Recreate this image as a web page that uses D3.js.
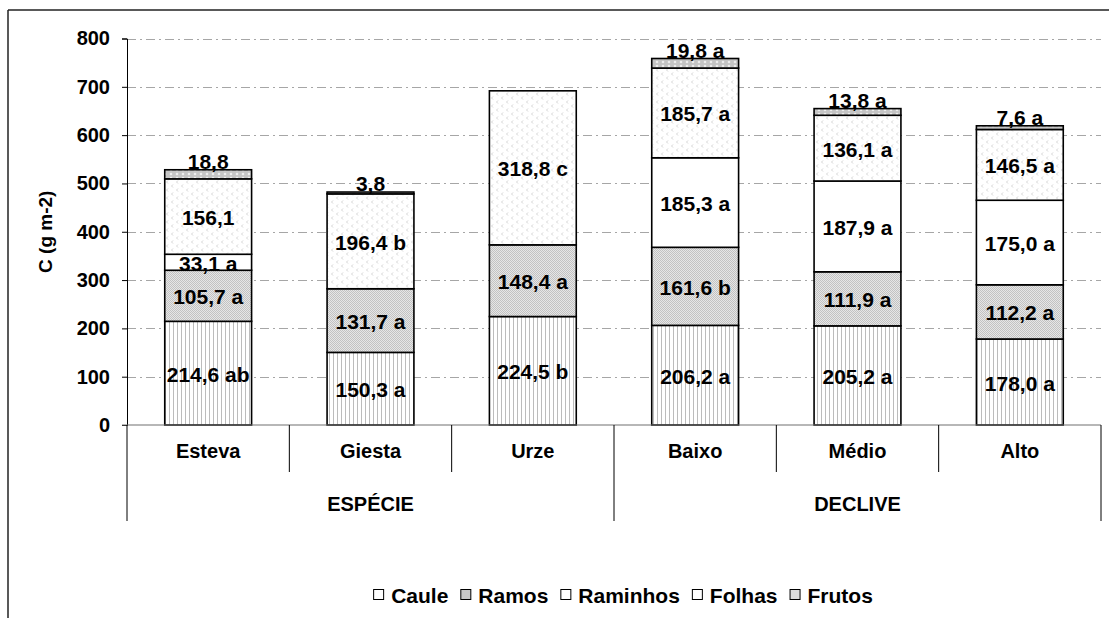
<!DOCTYPE html>
<html>
<head>
<meta charset="utf-8">
<script src="https://cdn.jsdelivr.net/npm/d3@7"></script>
<style>
  html, body { margin: 0; padding: 0; background: #fff; }
  svg text { font-family: "Liberation Sans", Arial, sans-serif; font-weight: bold; fill: #000; }
</style>
</head>
<body>
<svg id="chart" width="1109" height="618"></svg>
<script>
// Categories and their groups
const categories = ["Esteva", "Giesta", "Urze", "Baixo", "Médio", "Alto"];
const groups = [
  { name: "ESPÉCIE", members: ["Esteva", "Giesta", "Urze"] },
  { name: "DECLIVE", members: ["Baixo", "Médio", "Alto"] }
];
const seriesNames = ["Caule", "Ramos", "Raminhos", "Folhas", "Frutos"];

// Carbon stock per component (g m-2); null = component absent
const caule    = [214.6, 150.3, 224.5, 206.2, 205.2, 178.0];
const ramos    = [105.7, 131.7, 148.4, 161.6, 111.9, 112.2];
const raminhos = [33.1, null, null, 185.3, 187.9, 175.0];
const folhas   = [156.1, 196.4, 318.8, 185.7, 136.1, 146.5];
const frutos   = [18.8, 3.8, null, 19.8, 13.8, 7.6];

// Significance letters shown next to each value
const cauleLetters    = ["ab", "a", "b", "a", "a", "a"];
const ramosLetters    = ["a", "a", "a", "b", "a", "a"];
const raminhosLetters = ["a", "", "", "a", "a", "a"];
const folhasLetters   = ["", "b", "c", "a", "a", "a"];
const frutosLetters   = ["", "", "", "a", "a", "a"];

const yTicks = [0, 100, 200, 300, 400, 500, 600, 700, 800];

const seriesValues = [caule, ramos, raminhos, folhas, frutos];
const seriesLetters = [cauleLetters, ramosLetters, raminhosLetters, folhasLetters, frutosLetters];

const svg = d3.select("#chart");
const plotLeft = 127, plotRight = 1101, plotTop = 38.5, plotBottom = 425;

// ---------- fill patterns ----------
const defs = svg.append("defs");
// Caule: thin vertical stripes
const pCaule = defs.append("pattern").attr("id", "p-caule")
  .attr("patternUnits", "userSpaceOnUse").attr("width", 4).attr("height", 4);
pCaule.append("rect").attr("width", 4).attr("height", 4).attr("fill", "#fff");
pCaule.append("rect").attr("x", 1).attr("width", 1).attr("height", 4).attr("fill", "#bcbcbc");
// Ramos: fine grey stipple
const pRamos = defs.append("pattern").attr("id", "p-ramos")
  .attr("patternUnits", "userSpaceOnUse").attr("width", 2).attr("height", 2);
pRamos.append("rect").attr("width", 2).attr("height", 2).attr("fill", "#e6e6e6");
pRamos.append("rect").attr("width", 1).attr("height", 1).attr("fill", "#c2c2c2");
pRamos.append("rect").attr("x", 1).attr("y", 1).attr("width", 1).attr("height", 1).attr("fill", "#c2c2c2");
// Folhas: light chevron marks
const pFolhas = defs.append("pattern").attr("id", "p-folhas")
  .attr("patternUnits", "userSpaceOnUse").attr("width", 10).attr("height", 8);
pFolhas.append("rect").attr("width", 10).attr("height", 8).attr("fill", "#fff");
pFolhas.append("path").attr("d", "M3,0.5 L1.5,2 L3,3.5 M8,4.5 L6.5,6 L8,7.5")
  .attr("fill", "none").attr("stroke", "#cfcfcf").attr("stroke-width", 0.9);
// Frutos: grey with light dots
const pFrutos = defs.append("pattern").attr("id", "p-frutos")
  .attr("patternUnits", "userSpaceOnUse").attr("width", 6).attr("height", 4);
pFrutos.append("rect").attr("width", 6).attr("height", 4).attr("fill", "#c4c4c4");
pFrutos.append("circle").attr("cx", 3).attr("cy", 2).attr("r", 1.3).attr("fill", "#ececec");

const fills = ["url(#p-caule)", "url(#p-ramos)", "#ffffff", "url(#p-folhas)", "url(#p-frutos)"];

// ---------- outer frame ----------
svg.append("line").attr("x1", 8).attr("y1", 10).attr("x2", 1109).attr("y2", 10)
  .attr("stroke", "#222").attr("stroke-width", 1.5);
svg.append("line").attr("x1", 8).attr("y1", 10).attr("x2", 8).attr("y2", 618)
  .attr("stroke", "#222").attr("stroke-width", 1.5);

// ---------- scales ----------
const y = d3.scaleLinear().domain([0, 800]).range([plotBottom, plotTop]);
const xCell = d3.scaleBand().domain(categories).range([plotLeft, plotRight]).padding(0);
const x = d3.scaleBand().domain(categories).range([plotLeft, plotRight])
  .paddingInner(0.465).paddingOuter(0.2325);

// ---------- gridlines ----------
svg.append("g").selectAll("line").data(yTicks.filter(d => d > 0)).join("line")
  .attr("x1", plotLeft).attr("x2", plotRight)
  .attr("y1", d => Math.round(y(d)) + 0.5).attr("y2", d => Math.round(y(d)) + 0.5)
  .attr("stroke", "#a6a6a6").attr("stroke-width", 1)
  .attr("stroke-dasharray", "9,4,2,4");

// ---------- y axis ----------
const yAxis = svg.append("g").attr("transform", `translate(${plotLeft},0)`)
  .call(d3.axisLeft(y).tickValues(yTicks).tickSize(5).tickPadding(12).tickFormat(d3.format("d")));
yAxis.select(".domain").attr("stroke", "#000");
yAxis.selectAll(".tick line").attr("stroke", "#000");
yAxis.selectAll(".tick text").style("font-size", "20px").style("font-family", "Liberation Sans, Arial, sans-serif")
  .style("font-weight", "bold");

svg.append("text")
  .attr("transform", `translate(45,${(plotTop + plotBottom) / 2}) rotate(-90)`)
  .attr("text-anchor", "middle").attr("dominant-baseline", "central")
  .style("font-size", "19px").text("C (g m-2)");

// ---------- stacked bars ----------
const stacked = categories.map((c, i) => {
  let acc = 0;
  return seriesValues.map((vals, s) => {
    const v = vals[i] || 0;
    const seg = { cat: c, s, v, y0: acc, y1: acc + v, letter: seriesLetters[s][i], present: vals[i] != null };
    acc += v;
    return seg;
  });
});
const segs = stacked.flat().filter(d => d.present);

const fmt = v => d3.format(".1f")(v).replace(".", ",");

svg.append("g").selectAll("rect").data(segs).join("rect")
  .attr("x", d => x(d.cat))
  .attr("width", x.bandwidth())
  .attr("y", d => y(d.y1))
  .attr("height", d => y(d.y0) - y(d.y1))
  .attr("fill", d => fills[d.s])
  .attr("stroke", "#000").attr("stroke-width", 1.6);

// Value labels: inside the segment, except Frutos which sits on top of the bar
svg.append("g").selectAll("text").data(segs).join("text")
  .attr("x", d => x(d.cat) + x.bandwidth() / 2)
  .attr("y", d => d.s === 4 ? y(d.y1) - 1 : (y(d.y0) + y(d.y1)) / 2 + 1)
  .attr("text-anchor", "middle")
  .attr("dominant-baseline", d => d.s === 4 ? "auto" : "central")
  .style("font-size", "21px")
  .text(d => fmt(d.v) + (d.letter ? " " + d.letter : ""));

// ---------- x baseline & category separators ----------
svg.append("line").attr("x1", plotLeft - 5).attr("x2", plotRight)
  .attr("y1", plotBottom).attr("y2", plotBottom).attr("stroke", "#707070").attr("stroke-width", 1.2);

const groupEdges = [plotLeft, xCell(groups[1].members[0]), plotRight];
const catEdges = categories.slice(1).map(c => xCell(c)).filter(e => !groupEdges.includes(e));

svg.append("g").selectAll("line").data(catEdges).join("line")
  .attr("x1", d => d).attr("x2", d => d).attr("y1", plotBottom).attr("y2", 472)
  .attr("stroke", "#000").attr("stroke-width", 1);
svg.append("g").selectAll("line").data(groupEdges).join("line")
  .attr("x1", d => d).attr("x2", d => d).attr("y1", plotBottom).attr("y2", 521)
  .attr("stroke", "#000").attr("stroke-width", 1);

svg.append("g").selectAll("text").data(categories).join("text")
  .attr("x", d => xCell(d) + xCell.bandwidth() / 2).attr("y", 451)
  .attr("text-anchor", "middle").attr("dominant-baseline", "central")
  .style("font-size", "20px").text(d => d);

svg.append("g").selectAll("text").data(groups).join("text")
  .attr("x", g => (xCell(g.members[0]) + xCell(g.members[g.members.length - 1]) + xCell.bandwidth()) / 2)
  .attr("y", 504)
  .attr("text-anchor", "middle").attr("dominant-baseline", "central")
  .style("font-size", "20px").text(g => g.name);

// ---------- legend ----------
const legend = svg.append("g");
let lx = 0;
seriesNames.forEach((name, s) => {
  const item = legend.append("g").attr("transform", `translate(${lx},0)`);
  item.append("rect").attr("x", 0.5).attr("y", -4.5).attr("width", 10).attr("height", 10)
    .attr("fill", s === 1 ? "#c8c8c8" : (s === 4 ? "#dcdcdc" : "#fff"))
    .attr("stroke", "#000").attr("stroke-width", 1);
  const t = item.append("text").attr("x", 18).attr("y", 1)
    .attr("dominant-baseline", "central").style("font-size", "21px").text(name);
  lx += 18 + t.node().getComputedTextLength() + 12;
});
// center legend under the plot
const lw = lx - 12;
legend.attr("transform", `translate(${(plotLeft + plotRight) / 2 - lw / 2 + 9},594)`);
</script>
</body>
</html>
